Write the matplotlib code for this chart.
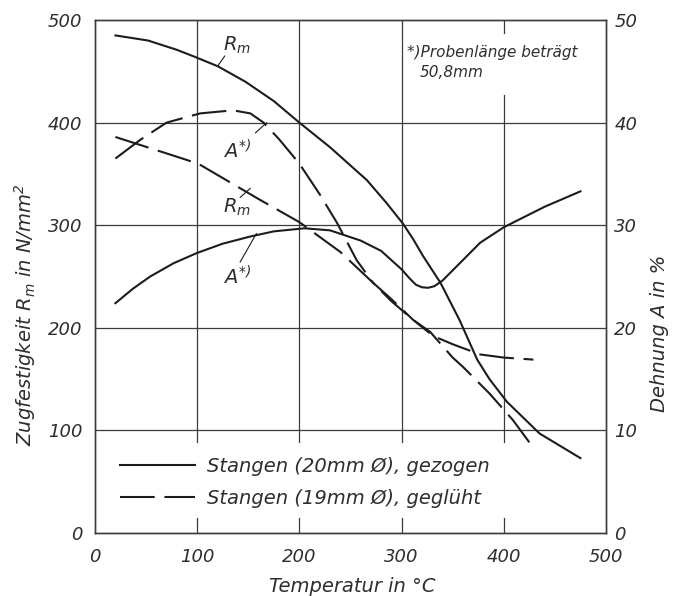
import matplotlib
matplotlib.use("Agg")
import matplotlib.pyplot as plt

# values (temperature in °C)
rm_drawn_t = [20, 52, 80, 98, 120, 147, 175, 200, 230, 266, 285, 301, 311, 321, 338, 357,
              374, 386, 403, 435, 475]
rm_drawn = [485, 480, 471, 464, 455, 440, 421, 400, 376, 344, 322, 302, 287, 270, 244, 207,
            169, 150, 128, 97, 73]

a_drawn_t = [20, 37, 54, 77, 100, 125, 152, 175, 205, 230, 260, 280, 300, 308, 314, 320, 326,
             332, 340, 350, 377, 400, 440, 475]
a_drawn = [22.4, 23.8, 25.0, 26.3, 27.3, 28.2, 28.9, 29.4, 29.7, 29.5, 28.5, 27.5, 25.7, 24.8,
           24.2, 23.95, 23.9, 24.05, 24.6, 25.6, 28.3, 29.8, 31.8, 33.3]

rm_annealed_t = [20, 70, 101, 161, 200, 240, 272, 290, 311, 328, 350, 360, 386, 409, 429]
rm_annealed = [386, 370, 360, 325, 303, 274, 244, 226, 208, 196, 171, 162, 136, 110, 83]

a_annealed_t = [20, 44, 70, 103, 135, 152, 165, 180, 200, 220, 237, 256, 272, 290, 311, 331, 350,
                377, 400, 429]
a_annealed = [36.5, 38.3, 40.0, 40.9, 41.2, 40.9, 40.0, 38.4, 36.0, 33.0, 30.2, 26.6, 24.4, 22.8,
              20.8, 19.2, 18.4, 17.4, 17.1, 16.9]

x_ticks = [0, 100, 200, 300, 400, 500]
rm_ticks = [0, 100, 200, 300, 400, 500]
a_ticks = [0, 10, 20, 30, 40, 50]

legend_labels = ["Stangen (20mm Ø), gezogen", "Stangen (19mm Ø), geglüht"]

ink = "#1c1c1c"
grid_ink = "#3c3c3c"
text_ink = "#2e2e2e"

plt.rcParams["font.family"] = ["DejaVu Sans"]
plt.rcParams["font.style"] = "italic"
plt.rcParams["mathtext.fontset"] = "dejavusans"
plt.rcParams["lines.scale_dashes"] = False

fig = plt.figure(figsize=(6.76, 5.96), dpi=100)
ax = fig.add_axes([0.1405, 0.1057, 0.7559, 0.8607])
ax2 = ax.twinx()

ax.set_xlim(0, 500)
ax.set_ylim(0, 500)
ax2.set_ylim(0, 50)

# grid, drawn by hand because it is broken for the legend and the note
for y in rm_ticks[1:-1]:
    ax.plot([0, 500], [y, y], color=grid_ink, lw=0.9, zorder=1)
for x in x_ticks[1:-1]:
    ax.plot([x, x], [0, 15], color=grid_ink, lw=0.9, zorder=1)
    if x == 400:
        ax.plot([x, x], [89, 427], color=grid_ink, lw=0.9, zorder=1)
        ax.plot([x, x], [487, 500], color=grid_ink, lw=0.9, zorder=1)
    else:
        ax.plot([x, x], [89, 500], color=grid_ink, lw=0.9, zorder=1)

dash = (25, 7)
solid_line, = ax.plot(rm_drawn_t, rm_drawn, color=ink, lw=1.5, zorder=3)
dashed_line, = ax.plot(rm_annealed_t, rm_annealed, color=ink, lw=1.5, dashes=dash, zorder=3)
ax2.plot(a_drawn_t, a_drawn, color=ink, lw=1.5, zorder=3)
ax2.plot(a_annealed_t, a_annealed, color=ink, lw=1.5, dashes=dash, zorder=3)

# curve labels with leader lines
lead = dict(arrowstyle="-", color=ink, lw=0.8, shrinkA=0, shrinkB=0)
ax.annotate("", xy=(120, 455), xytext=(127, 465), arrowprops=lead)
ax.text(125, 465, r"$R_m$", fontsize=14, color=text_ink, ha="left", va="bottom")
ax.annotate("", xy=(168, 400), xytext=(157, 390), arrowprops=lead)
ax.text(125, 372, r"$A^{*)}$", fontsize=14, color=text_ink, ha="left", va="center")
ax.annotate("", xy=(152, 336), xytext=(142, 327), arrowprops=lead)
ax.text(125, 317, r"$R_m$", fontsize=14, color=text_ink, ha="left", va="center")
ax.annotate("", xy=(158, 292), xytext=(142, 264), arrowprops=lead)
ax.text(125, 250, r"$A^{*)}$", fontsize=14, color=text_ink, ha="left", va="center")

ax.text(305, 468, "*)Probenlänge beträgt", fontsize=11, color=text_ink, ha="left", va="center")
ax.text(318, 449, "50,8mm", fontsize=11, color=text_ink, ha="left", va="center")

leg = ax.legend([solid_line, dashed_line], legend_labels, loc="lower left",
                bbox_to_anchor=(0.033, 0.034), frameon=False, fontsize=14,
                handlelength=3.9, handletextpad=0.6, labelspacing=0.65,
                labelcolor=text_ink, borderaxespad=0)

ax.set_xticks(x_ticks)
ax.set_yticks(rm_ticks)
ax2.set_yticks(a_ticks)
ax.tick_params(axis="x", length=0, labelsize=13, labelcolor=text_ink, pad=11)
ax.tick_params(axis="y", length=0, labelsize=13, labelcolor=text_ink, pad=9)
ax2.tick_params(length=0, labelsize=13, labelcolor=text_ink, pad=6)

ax.set_xlabel("Temperatur in °C", fontsize=14, color=text_ink)
ax.xaxis.set_label_coords(0.503, -0.085)
ax.set_ylabel(r"Zugfestigkeit $R_m$ in N/mm$^2$", fontsize=14, color=text_ink)
ax.yaxis.set_label_coords(-0.112, 0.425)
ax2.set_ylabel("Dehnung A in %", fontsize=14, color=text_ink)
ax2.yaxis.set_label_coords(1.086, 0.39)

for a in (ax, ax2):
    for s in a.spines.values():
        s.set_color(grid_ink)
        s.set_linewidth(1.0)

fig.savefig("out.png", dpi=100)
